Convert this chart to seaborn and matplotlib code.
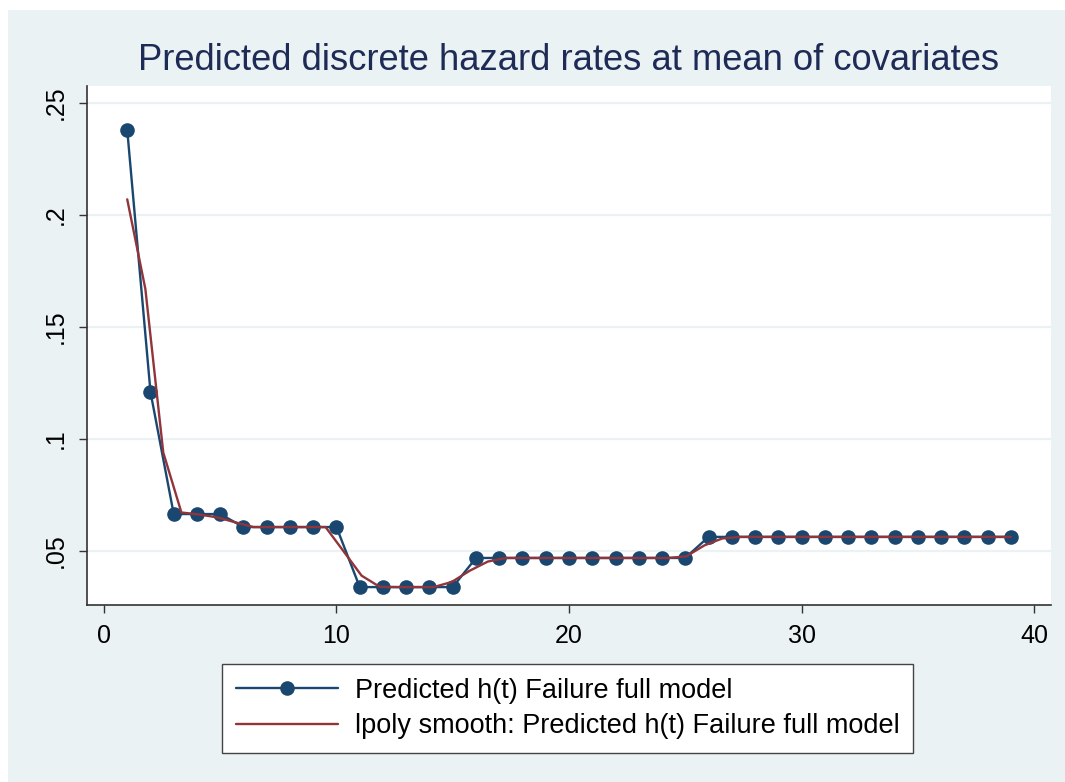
import numpy as np
import pandas as pd
import seaborn as sns
from matplotlib import pyplot as plt
from matplotlib.patches import Rectangle

# predicted hazard by period
t = list(range(1, 40))
hazard = [0.238, 0.121, 0.0665, 0.0665, 0.0665,
          0.0607, 0.0607, 0.0607, 0.0607, 0.0607,
          0.0339, 0.0339, 0.0339, 0.0339, 0.0339,
          0.0469, 0.0469, 0.0469, 0.0469, 0.0469, 0.0469, 0.0469, 0.0469, 0.0469, 0.0469,
          0.0563, 0.0563, 0.0563, 0.0563, 0.0563, 0.0563, 0.0563,
          0.0563, 0.0563, 0.0563, 0.0563, 0.0563, 0.0563, 0.0563]

# lpoly smooth evaluated on its grid
grid = [1.00, 1.78, 2.55, 3.33, 4.10, 4.88, 5.65, 6.43, 7.20, 7.98,
        8.76, 9.53, 10.31, 11.08, 11.86, 12.63, 13.41, 14.18, 14.96, 15.73,
        16.51, 17.29, 18.06, 18.84, 19.61, 20.39, 21.16, 21.94, 22.71, 23.49,
        24.27, 25.04, 25.82, 26.59, 27.37, 28.14, 28.92, 29.69, 30.47, 31.24,
        32.02, 32.80, 33.57, 34.35, 35.12, 35.90, 36.67, 37.45, 38.22, 39.00]
smooth = [0.207, 0.167, 0.094, 0.0672, 0.0663, 0.0650, 0.0628, 0.0607, 0.0607, 0.0607,
          0.0607, 0.0607, 0.0498, 0.0390, 0.0340, 0.0339, 0.0339, 0.0339, 0.0362, 0.0412,
          0.0453, 0.0469, 0.0469, 0.0469, 0.0469, 0.0469, 0.0469, 0.0469, 0.0469, 0.0469,
          0.0469, 0.0476, 0.0525, 0.0556, 0.0563, 0.0563, 0.0563, 0.0563, 0.0563, 0.0563,
          0.0563, 0.0563, 0.0563, 0.0563, 0.0563, 0.0563, 0.0563, 0.0563, 0.0563, 0.0563]

xticks = [0, 10, 20, 30, 40]
yticks = [0.05, 0.1, 0.15, 0.2, 0.25]
ylabels = ['.05', '.1', '.15', '.2', '.25']

bg = '#eaf2f3'
navy = '#1a476f'
maroon = '#90353b'

sns.set_style('white')
plt.rcParams['font.family'] = ['Liberation Sans', 'DejaVu Sans']

fig = plt.figure(figsize=(10.65, 7.82), dpi=100, facecolor='white')
fig.patches.append(Rectangle((8 / 1065, 0), 1, (782 - 10) / 782, transform=fig.transFigure,
                             facecolor=bg, edgecolor='none', zorder=-10))
ax = fig.add_axes([87 / 1065, (782 - 605) / 782, (1051 - 87) / 1065, (605 - 86) / 782])
ax.set_facecolor('white')

d1 = pd.DataFrame({'t': t, 'h': hazard})
d2 = pd.DataFrame({'t': grid, 'h': smooth})

sns.lineplot(x='t', y='h', data=d1, ax=ax, color=navy, lw=1.7, marker='o', markersize=10.5,
             markeredgewidth=0, label='Predicted h(t) Failure full model', zorder=3)
sns.lineplot(x='t', y='h', data=d2, ax=ax, color=maroon, lw=1.7,
             label='lpoly smooth: Predicted h(t) Failure full model', zorder=4)

ax.set_xlim(-0.73, 40.73)
ax.set_ylim(0.0259, 0.2576)
ax.set_xticks(xticks)
ax.set_yticks(yticks)
ax.set_yticklabels(ylabels, rotation=90, va='center')
ax.tick_params(axis='both', labelsize=18, length=6, width=1, color='#333333', labelcolor='black',
               direction='out', pad=8)
ax.tick_params(axis='both', left=True, bottom=True)
ax.grid(axis='y', color=bg, lw=1.6)
ax.set_axisbelow(True)
for s in ['top', 'right']:
    ax.spines[s].set_visible(False)
for s in ['left', 'bottom']:
    ax.spines[s].set_color('#333333')
    ax.spines[s].set_linewidth(1.2)
ax.set_xlabel('')
ax.set_ylabel('')

fig.text(569 / 1065, 1 - 60 / 782, 'Predicted discrete hazard rates at mean of covariates',
         fontsize=26.2, color='#1e2b57', ha='center', va='center')

ax.get_legend().remove()
h, l = ax.get_legend_handles_labels()
fig.legend(h, l, loc='upper center', bbox_to_anchor=(567.5 / 1065, (782 - 664) / 782),
           fontsize=19.5, frameon=True, fancybox=False, edgecolor='#444444', facecolor='white',
           framealpha=1, borderaxespad=0, handlelength=3.8, borderpad=0.5, labelspacing=0.35,
           handletextpad=0.6, labelcolor='black')

fig.savefig('out.png', dpi=100, facecolor=fig.get_facecolor())
